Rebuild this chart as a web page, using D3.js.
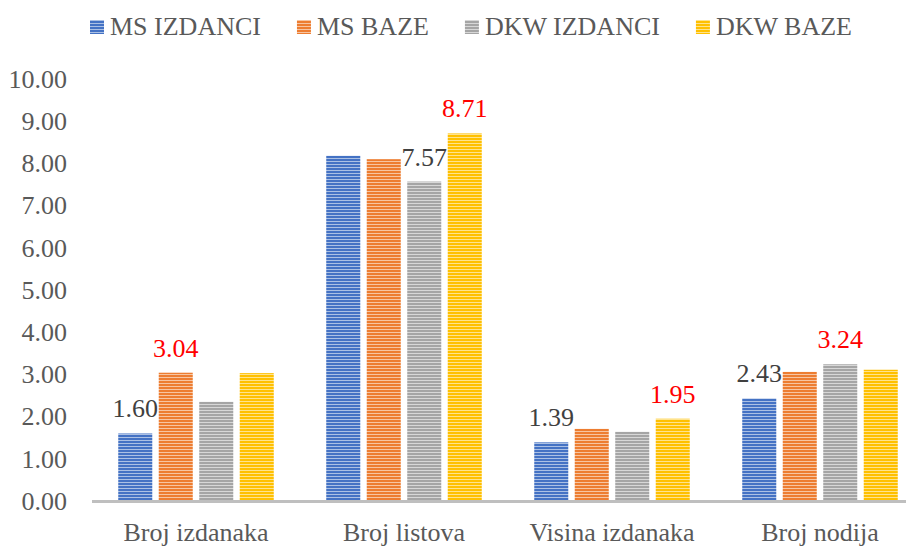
<!DOCTYPE html>
<html>
<head>
<meta charset="utf-8">
<script src="https://cdn.jsdelivr.net/npm/d3@7"></script>
<style>
  html, body { margin: 0; padding: 0; background: #fff; }
  svg { display: block; }
  svg text, #chart text { font-family: "Liberation Serif", serif !important; }
</style>
</head>
<body>
<svg id="chart" width="910" height="546"></svg>
<script>
// ---- data ----
const categories = ["Broj izdanaka", "Broj listova", "Visina izdanaka", "Broj nodija"];
const seriesNames = ["MS IZDANCI", "MS BAZE", "DKW IZDANCI", "DKW BAZE"];
const msIzdanci  = [1.60, 8.18, 1.39, 2.43];
const msBaze     = [3.04, 8.10, 1.71, 3.06];
const dkwIzdanci = [2.35, 7.57, 1.64, 3.24];
const dkwBaze    = [3.03, 8.71, 1.95, 3.11];
const yTicks = [0, 1, 2, 3, 4, 5, 6, 7, 8, 9, 10];
// data labels shown: [category index, series index, highlight]
const shownLabels = [
  [0, 0, false], [0, 1, true],
  [1, 2, false], [1, 3, true],
  [2, 0, false], [2, 3, true],
  [3, 0, false], [3, 2, true]
];

const seriesValues = [msIzdanci, msBaze, dkwIzdanci, dkwBaze];
const colors = ["#4472C4", "#ED7D31", "#A5A5A5", "#FFC000"];
const lightColors = colors.map(c => d3.interpolateRgb(c, "#ffffff")(0.55));

const svg = d3.select("#chart");
const FONT = 26;
function serif(sel) {
  return sel.attr("font-family", "Liberation Serif")
    .style("font-family", "'Liberation Serif', serif", "important")
    .attr("font-size", FONT);
}

// patterns
const defs = svg.append("defs");
colors.forEach((c, i) => {
  const p = defs.append("pattern")
    .attr("id", "pat" + i)
    .attr("patternUnits", "userSpaceOnUse")
    .attr("width", 6).attr("height", 3);
  p.append("rect").attr("width", 6).attr("height", 3).attr("fill", lightColors[i]);
  p.append("rect").attr("width", 6).attr("height", 2).attr("fill", c);
});

// scales
const x0 = d3.scaleBand().domain(categories).range([92, 924]).paddingInner(0).paddingOuter(0);
const x1 = d3.scaleBand().domain(d3.range(seriesNames.length)).range([0, x0.bandwidth()])
  .paddingInner(0.16).paddingOuter(0.648);
const y = d3.scaleLinear().domain([0, 10]).range([501, 79]);

// y tick labels
svg.append("g").selectAll("text").data(yTicks).join("text")
  .attr("x", 67).attr("y", d => y(d)).attr("dy", "0.34em")
  .attr("text-anchor", "end").attr("fill", "#595959")
  .call(serif)
  .text(d => d3.format(".2f")(d));

// bars
const flat = [];
categories.forEach((cat, ci) => {
  seriesValues.forEach((vals, si) => flat.push({ cat, ci, si, v: vals[ci] }));
});
svg.append("g").selectAll("rect").data(flat).join("rect")
  .attr("x", d => x0(d.cat) + x1(d.si))
  .attr("width", x1.bandwidth())
  .attr("y", d => y(d.v))
  .attr("height", d => y(0) - y(d.v))
  .attr("fill", d => "url(#pat" + d.si + ")");

// axis line
svg.append("line")
  .attr("x1", x0.range()[0]).attr("x2", 906)
  .attr("y1", y(0) + 0.5).attr("y2", y(0) + 0.5)
  .attr("stroke", "#BFBFBF").attr("stroke-width", 3);

// category labels
svg.append("g").selectAll("text").data(categories).join("text")
  .attr("x", d => x0(d) + x0.bandwidth() / 2).attr("y", 541)
  .attr("text-anchor", "middle").attr("fill", "#595959")
  .call(serif)
  .text(d => d);

// data labels
svg.append("g").selectAll("text").data(shownLabels).join("text")
  .attr("x", d => x0(categories[d[0]]) + x1(d[1]) + x1.bandwidth() / 2)
  .attr("y", d => y(seriesValues[d[1]][d[0]]) - 16)
  .attr("text-anchor", "middle")
  .call(serif)
  .attr("fill", d => d[2] ? "#FF0000" : "#404040")
  .text(d => d3.format(".2f")(seriesValues[d[1]][d[0]]));

// legend
const legend = svg.append("g");
let lx = 90;
seriesNames.forEach((name, i) => {
  legend.append("rect").attr("x", lx).attr("y", 20).attr("width", 14).attr("height", 14)
    .attr("fill", "url(#pat" + i + ")");
  const t = legend.append("text").attr("x", lx + 20).attr("y", 35)
    .attr("fill", "#595959")
    .call(serif).text(name);
  lx += 20 + t.node().getComputedTextLength() + 36;
});
</script>
</body>
</html>
